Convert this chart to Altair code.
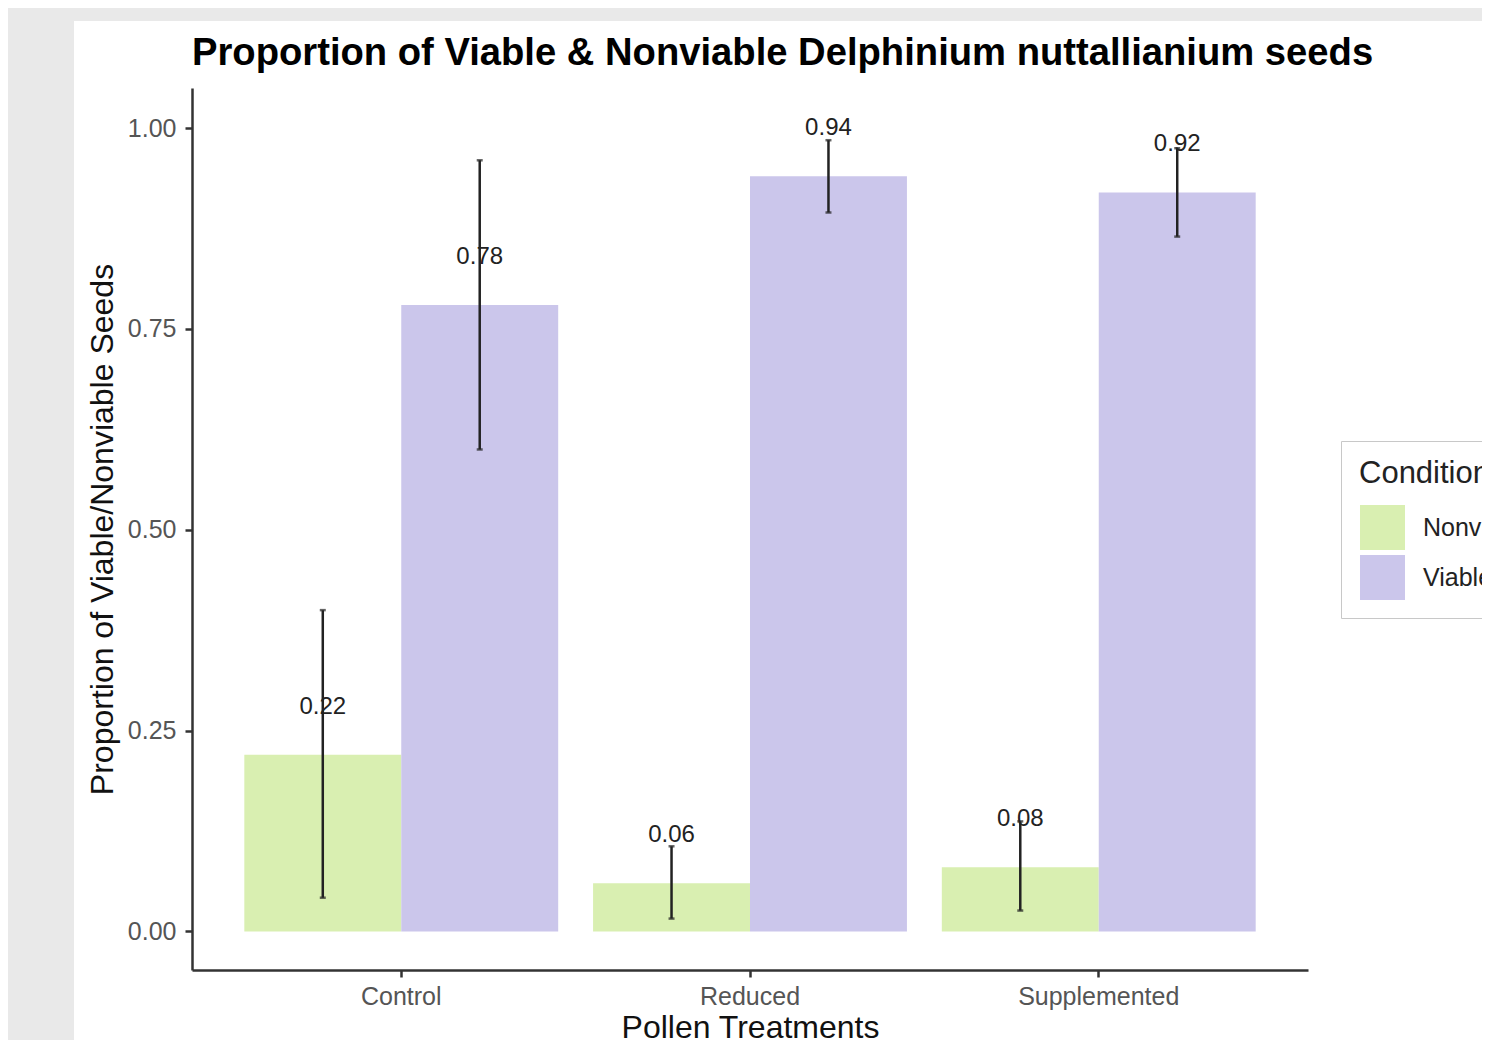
import altair as alt
import pandas as pd

treatments = ["Control", "Control", "Reduced", "Reduced", "Supplemented", "Supplemented"]
conditions = ["Nonviable", "Viable", "Nonviable", "Viable", "Nonviable", "Viable"]
proportions = [0.22, 0.78, 0.06, 0.94, 0.08, 0.92]
err_low = [0.042, 0.600, 0.016, 0.895, 0.026, 0.865]
err_high = [0.400, 0.960, 0.106, 0.985, 0.137, 0.975]
labels = ["0.22", "0.78", "0.06", "0.94", "0.08", "0.92"]

cond_domain = ["Nonviable", "Viable"]
cond_colors = ["#d9efb1", "#cbc6eb"]
y_ticks = [0.0, 0.25, 0.5, 0.75, 1.0]

df = pd.DataFrame({
    "Treatment": treatments,
    "Condition": conditions,
    "value": proportions,
    "lo": err_low,
    "hi": err_high,
    "label": labels,
})

FONT = "Liberation Sans"

xenc = alt.X(
    "Treatment:N",
    title="Pollen Treatments",
    sort=["Control", "Reduced", "Supplemented"],
    scale=alt.Scale(paddingInner=0.1, paddingOuter=0.15),
    axis=alt.Axis(
        labelAngle=0, labelFontSize=25, labelColor="#555555", labelFont=FONT,
        labelPadding=7, titleFontSize=32, titleFont=FONT, titleColor="#111111",
        titleFontWeight="normal", titlePadding=3, domainColor="#333333",
        domainWidth=2.5, tickColor="#333333", tickWidth=2.5, tickSize=7,
        grid=False, zindex=1,
    ),
)
xoff = alt.XOffset("Condition:N", sort=cond_domain, scale=alt.Scale(paddingInner=0, paddingOuter=0))

yscale = alt.Scale(domain=[-0.048, 1.05], nice=False, zero=False)
yaxis = alt.Axis(
    values=y_ticks, format=".2f", labelFontSize=25, labelColor="#555555",
    labelFont=FONT, labelPadding=9, titleFontSize=32, titleFont=FONT,
    titleColor="#111111", titleFontWeight="normal", titlePadding=8,
    domainColor="#333333", domainWidth=2.5, tickColor="#333333", tickWidth=2.5,
    tickSize=7, grid=False, zindex=1,
)

panel = alt.Chart(alt.Data(values=[{"a": 1}])).mark_rect(color="white").encode(
    x=alt.value(-118), x2=alt.value(1400), y=alt.value(-67), y2=alt.value(1000)
)

base = alt.Chart(df).encode(x=xenc, xOffset=xoff)

bars = base.mark_bar().encode(
    y=alt.Y("value:Q", title="Proportion of Viable/Nonviable Seeds", scale=yscale, axis=yaxis),
    y2=alt.datum(0),
    color=alt.Color(
        "Condition:N",
        scale=alt.Scale(domain=cond_domain, range=cond_colors),
        legend=alt.Legend(
            title="Condition", orient="none", legendX=1149, legendY=353,
            titleFontSize=31, titleFont=FONT, titleColor="#222222",
            titleFontWeight="normal", labelFontSize=25, labelFont=FONT,
            labelColor="#222222", symbolType="square", symbolSize=2025,
            symbolStrokeWidth=0, symbolOpacity=1, symbolOffset=1,
            labelOffset=18, rowPadding=5, titlePadding=15, padding=18,
            strokeColor="#c8c8c8", fillColor="white",
        ),
    ),
)

rules = base.mark_rule(color="#222222", strokeWidth=2.5).encode(
    y=alt.Y("lo:Q", scale=yscale), y2="hi:Q"
)
caps_lo = base.mark_tick(color="#222222", orient="horizontal", size=6, thickness=2.5).encode(
    y=alt.Y("lo:Q", scale=yscale)
)
caps_hi = base.mark_tick(color="#222222", orient="horizontal", size=6, thickness=2.5).encode(
    y=alt.Y("hi:Q", scale=yscale)
)
texts = base.mark_text(
    dy=-41, baseline="alphabetic", fontSize=24, font=FONT, color="#222222"
).encode(y=alt.Y("value:Q", scale=yscale), text="label:N")

chart = alt.layer(panel, bars, rules, caps_lo, caps_hi, texts).properties(
    width=1116,
    height=882,
    title=alt.TitleParams(
        "Proportion of Viable & Nonviable Delphinium nuttallianium seeds",
        anchor="start", frame="group", fontSize=38.2, fontWeight="bold",
        font=FONT, color="#000000", offset=-82, baseline="alphabetic",
    ),
    autosize=alt.AutoSizeParams(type="none"),
    padding={"left": 184, "top": 80, "right": 174, "bottom": 70},
    background="#e9e9e9",
).configure_view(stroke=None)

chart.save("out.html", embed_options={"renderer": "svg", "actions": False})
